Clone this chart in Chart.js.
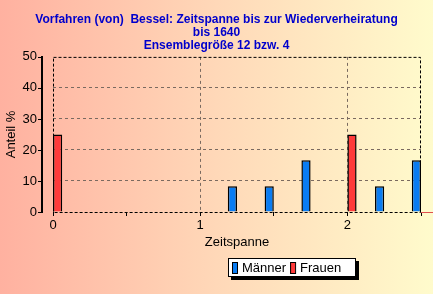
<!DOCTYPE html>
<html><head><meta charset="utf-8">
<script src="https://cdn.jsdelivr.net/npm/chart.js@4/dist/chart.umd.min.js"></script>
<style>html,body{margin:0;padding:0;}#wrap{width:433px;height:294px;}</style>
</head><body><div id="wrap"><canvas id="c" width="433" height="294"></canvas></div>
<script>
const titleLines = ["Vorfahren (von)  Bessel: Zeitspanne bis zur Wiederverheiratung", "bis 1640", "Ensemblegröße 12 bzw. 4"];
const categories = [0, 0.25, 0.5, 0.75, 1, 1.25, 1.5, 1.75, 2, 2.25, 2.5];
const maenner = [0, 0, 0, 0, 0, 8.33, 8.33, 16.67, 0, 8.33, 16.67];
const frauen  = [25, 0, 0, 0, 0, 0, 0, 0, 25, 0, 0];
const xTickLabels = [0, 1, 2];
const seriesNames = ["Männer", "Frauen"];
const FONT = "'Liberation Sans', Arial, sans-serif";

const bgPlugin = {
  id: 'bg',
  afterLayout(chart) {
    if (chart.titleBlock) { chart.titleBlock.left = 0; chart.titleBlock.right = chart.width; }
  },
  beforeDraw(chart) {
    const ctx = chart.ctx;
    const g = ctx.createLinearGradient(0, 0, chart.width, 0);
    g.addColorStop(0, '#FFB1A0');
    g.addColorStop(0.5, '#FFD8B8');
    g.addColorStop(1, '#FFFBCC');
    ctx.save(); ctx.fillStyle = g; ctx.fillRect(0, 0, chart.width, chart.height); ctx.restore();
  },
  afterDraw(chart) {
    const ctx = chart.ctx, a = chart.chartArea, ys = chart.scales.y;
    ctx.save();
    // plot border dashed
    ctx.strokeStyle = '#000'; ctx.lineWidth = 1; ctx.setLineDash([3, 2]);
    ctx.strokeRect(a.left + 0.5, a.top + 0.5, a.right - a.left - 1, a.bottom - a.top);
    ctx.setLineDash([]);
    // red baseline extension to the right
    ctx.strokeStyle = '#E05050';
    ctx.beginPath(); ctx.moveTo(a.right, a.bottom + 0.5); ctx.lineTo(chart.width, a.bottom + 0.5); ctx.stroke();
    // y axis line
    ctx.strokeStyle = '#000';
    const ax = a.left - 11;
    ctx.lineWidth = 2;
    ctx.beginPath(); ctx.moveTo(ax, a.top - 1); ctx.lineTo(ax, a.bottom + 1); ctx.stroke();
    ctx.lineWidth = 1;
    ys.ticks.forEach(t => {
      const py = Math.round(ys.getPixelForValue(t.value)) + 0.5;
      ctx.beginPath(); ctx.moveTo(ax - 4, py); ctx.lineTo(ax, py); ctx.stroke();
    });
    // legend
    const lx = 228, ly = 258, lw = 128, lh = 19;
    ctx.fillStyle = '#000'; ctx.fillRect(lx + 3, ly + 3, lw, lh);
    ctx.fillStyle = '#fff'; ctx.fillRect(lx, ly, lw, lh);
    ctx.strokeStyle = '#000'; ctx.strokeRect(lx + 0.5, ly + 0.5, lw - 1, lh - 1);
    ctx.font = '13px ' + FONT; ctx.textBaseline = 'middle';
    let x = lx + 4;
    chart.data.datasets.forEach(ds => {
      ctx.fillStyle = ds.backgroundColor; ctx.fillRect(x, ly + 4, 5, 12);
      ctx.strokeStyle = '#000'; ctx.strokeRect(x + 0.5, ly + 4.5, 5, 11);
      x += 10;
      ctx.fillStyle = '#000'; ctx.fillText(ds.label, x, ly + lh / 2 + 1);
      x += ctx.measureText(ds.label).width + 4;
    });
    ctx.restore();
  }
};

new Chart(document.getElementById('c'), {
  type: 'bar',
  data: {
    datasets: [
      { label: seriesNames[0], data: categories.map((c, i) => ({x: c, y: maenner[i]})), backgroundColor: '#0A7CF2', borderColor: '#000', borderWidth: 1.5 },
      { label: seriesNames[1], data: categories.map((c, i) => ({x: c, y: frauen[i]})), backgroundColor: '#FF3A3A', borderColor: '#000', borderWidth: 1.5 }
    ]
  },
  plugins: [bgPlugin],
  options: {
    responsive: false, animation: false,
    categoryPercentage: 0.5, barPercentage: 1,
    layout: { padding: { left: 0, right: 12, top: 0, bottom: 44 } },
    plugins: {
      legend: { display: false },
      tooltip: { enabled: false },
      title: { display: true, text: titleLines, color: '#0000CC', font: { family: FONT, size: 12, weight: 'bold', lineHeight: 1.08 }, padding: { top: 13, bottom: 5 } }
    },
    scales: {
      x: {
        type: 'linear', min: 0, max: 2.5, offset: false,
        afterBuildTicks: s => { s.ticks = [0, 0.5, 1, 1.5, 2, 2.5].map(v => ({value: v})); },
        afterFit: s => { s.height = 38; },
        ticks: { color: '#000', font: { family: FONT, size: 13 }, padding: 2, maxRotation: 0, autoSkip: false,
                 callback: v => xTickLabels.includes(v) ? String(v) : '' },
        grid: { offset: false, color: c => (c.tick && Number.isInteger(c.tick.value) && c.tick.value > 0 && c.tick.value < 2.5) ? '#7a6a60' : 'rgba(0,0,0,0)',
                tickColor: '#000', tickLength: 4, drawTicks: true },
        border: { display: false, dash: [3, 3] },
        title: { display: true, text: 'Zeitspanne', color: '#000', font: { family: FONT, size: 13 }, padding: { top: 0, bottom: 0 } }
      },
      y: {
        min: 0, max: 50,
        afterFit: s => { s.width = 53; },
        ticks: { stepSize: 10, color: '#000', font: { family: FONT, size: 13 }, padding: 16 },
        grid: { color: c => (c.tick && c.tick.value > 0 && c.tick.value < 50) ? '#7a6a60' : 'rgba(0,0,0,0)', drawTicks: false },
        border: { display: false, dash: [3, 3] },
        title: { display: true, text: 'Anteil %', color: '#000', font: { family: FONT, size: 13 }, padding: { top: 4, bottom: 0 } }
      }
    }
  }
});
</script></body></html>
